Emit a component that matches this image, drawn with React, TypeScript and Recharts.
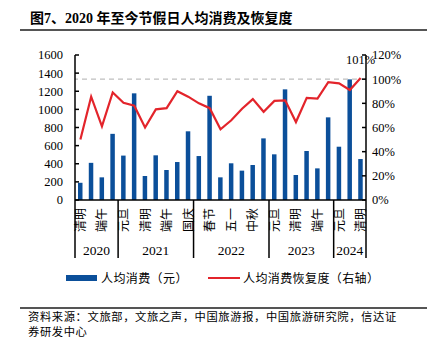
import React from "react";
import { Bar, ComposedChart, LabelList, Line, ReferenceLine, XAxis, YAxis } from "recharts";

// holidays, in order, and the year each belongs to
const categories = [
  "清明", "五一", "端午", "国庆",
  "元旦", "春节", "清明", "五一", "端午", "中秋", "国庆",
  "元旦", "春节", "清明", "五一", "端午", "中秋", "国庆",
  "元旦", "春节", "清明", "五一", "端午", "中秋国庆",
  "元旦", "春节", "清明"
];
const categoryYears = [
  "2020", "2020", "2020", "2020",
  "2021", "2021", "2021", "2021", "2021", "2021", "2021",
  "2022", "2022", "2022", "2022", "2022", "2022", "2022",
  "2023", "2023", "2023", "2023", "2023", "2023",
  "2024", "2024", "2024"
];
// 人均消费（元）
const spending = [
  190, 410, 250, 730,
  490, 1177, 265, 493, 331, 419, 758,
  485, 1150, 250, 405, 324, 386, 680,
  504, 1221, 276, 541, 349, 912,
  588, 1331, 452
];
// 人均消费恢复度 (%)
const recovery = [
  50, 85.5, 61, 89,
  80.5, 78, 60, 75, 76, 90, 85.5,
  80, 76, 58.5, 66, 75.5, 83.5, 73,
  82, 82.5, 64.5, 84.5, 84, 97.5,
  96.5, 91, 101
];
const leftTicks = [0, 200, 400, 600, 800, 1000, 1200, 1400, 1600];
const rightTicks = [0, 20, 40, 60, 80, 100, 120];

const CHART_W = 427;
const CHART_H = 339;
const MARGIN = { top: 55, right: 0, bottom: 79, left: 15 };
const LEFT_AXIS_W = 60;
const RIGHT_AXIS_W = 61;
const STEP =
  (CHART_W - MARGIN.left - MARGIN.right - LEFT_AXIS_W - RIGHT_AXIS_W) / categories.length;

const SERIF = '"Liberation Serif", "Noto Sans CJK SC", serif';
const CJK = '"Noto Sans CJK SC", sans-serif';
const BLUE = "#0b4f9a";
const RED = "#e3242b";

const data = categories.map((name, i) => ({
  key: `${categoryYears[i]}-${i}`,
  name,
  spending: spending[i],
  recovery: recovery[i]
}));

const CategoryTick = (props: any) => {
  const { x, y, index } = props;
  const year = categoryYears[index];
  const first = index === 0 || categoryYears[index - 1] !== year;
  const last = index === categories.length - 1;
  const count = categoryYears.filter((v) => v === year).length;
  const left = x - STEP / 2;
  return (
    <g>
      {index % 2 === 0 && (
        <text
          transform={`translate(${x + 4.5},${y + 8}) rotate(-90)`}
          textAnchor="end"
          fontSize={12}
          fontFamily={CJK}
          fill="#000"
        >
          {categories[index]}
        </text>
      )}
      {first && <line x1={left} x2={left} y1={y} y2={y + 58} stroke="#000" strokeWidth={1.5} />}
      {first && (
        <text x={left + (count * STEP) / 2} y={y + 55} textAnchor="middle" fontSize={13.5} fontFamily={SERIF} fill="#000">
          {year}
        </text>
      )}
      {last && (
        <line x1={x + STEP / 2} x2={x + STEP / 2} y1={y} y2={y + 58} stroke="#000" strokeWidth={1.5} />
      )}
    </g>
  );
};

const LastLabel = (props: any) => {
  const { x, y, value, index } = props;
  if (index !== recovery.length - 1) return null;
  return (
    <text x={x} y={y - 14} textAnchor="middle" fontSize={12.5} fontFamily={SERIF} fill="#000">
      {`${value}%`}
    </text>
  );
};

const tickStyle = { fontSize: 12.5, fontFamily: SERIF, fill: "#000" };

export default function App() {
  return (
    <div
      style={{
        position: "absolute",
        left: 0,
        top: 0,
        width: CHART_W,
        height: CHART_H,
        background: "#fff",
        fontFamily: CJK,
        color: "#000"
      }}
    >
      <div style={{ position: "absolute", left: 30, top: 7, fontSize: 14, fontWeight: "bold", fontFamily: SERIF, whiteSpace: "nowrap" }}>
        图7、2020 年至今节假日人均消费及恢复度
      </div>
      <div style={{ position: "absolute", left: 20, right: 0, top: 29, height: 1.5, background: "#555" }} />

      <ComposedChart width={CHART_W} height={CHART_H} data={data} margin={MARGIN}>
        <XAxis
          dataKey="key"
          interval={0}
          tickLine={false}
          tickSize={0}
          tickMargin={0}
          height={60}
          axisLine={{ stroke: "#000", strokeWidth: 1.5 }}
          tick={(p: any) => <CategoryTick {...p} />}
        />
        <YAxis
          yAxisId="left"
          width={LEFT_AXIS_W}
          domain={[0, 1600]}
          ticks={leftTicks}
          interval={0}
          tickSize={-4}
          tickMargin={16}
          axisLine={{ stroke: "#000", strokeWidth: 1.5 }}
          tickLine={{ stroke: "#000", strokeWidth: 1.5 }}
          tick={tickStyle}
        />
        <YAxis
          yAxisId="right"
          orientation="right"
          width={RIGHT_AXIS_W}
          domain={[0, 120]}
          ticks={rightTicks}
          interval={0}
          tickSize={-4}
          tickMargin={10}
          tickFormatter={(v: number) => `${v}%`}
          axisLine={{ stroke: "#000", strokeWidth: 1.5 }}
          tickLine={{ stroke: "#000", strokeWidth: 1.5 }}
          tick={tickStyle}
        />
        <ReferenceLine yAxisId="right" y={100} stroke="#bfbfbf" strokeDasharray="5 4" strokeWidth={1.2} />
        <Bar yAxisId="left" dataKey="spending" fill={BLUE} barSize={4.5} isAnimationActive={false} />
        <Line
          yAxisId="right"
          dataKey="recovery"
          type="linear"
          stroke={RED}
          strokeWidth={2.2}
          dot={false}
          activeDot={false}
          isAnimationActive={false}
        >
          <LabelList dataKey="recovery" content={(p: any) => <LastLabel {...p} />} />
        </Line>
      </ComposedChart>

      {/* legend */}
      <div style={{ position: "absolute", left: 66, top: 275, width: 31, height: 6, background: BLUE }} />
      <div style={{ position: "absolute", left: 101, top: 269, fontSize: 12, letterSpacing: 0.4, whiteSpace: "nowrap" }}>
        人均消费（元）
      </div>
      <div style={{ position: "absolute", left: 208, top: 277, width: 32, height: 2, background: RED }} />
      <div style={{ position: "absolute", left: 243, top: 269, fontSize: 12, letterSpacing: 0.4, whiteSpace: "nowrap" }}>
        人均消费恢复度（右轴）
      </div>

      {/* source */}
      <div style={{ position: "absolute", left: 20, right: 0, top: 307, height: 1.5, background: "#555" }} />
      <div style={{ position: "absolute", left: 28, top: 309, fontSize: 11.3, lineHeight: "14.5px", letterSpacing: 0.6, whiteSpace: "nowrap" }}>
        <div>资料来源：文旅部，文旅之声，中国旅游报，中国旅游研究院，信达证</div>
        <div>券研发中心</div>
      </div>
    </div>
  );
}
